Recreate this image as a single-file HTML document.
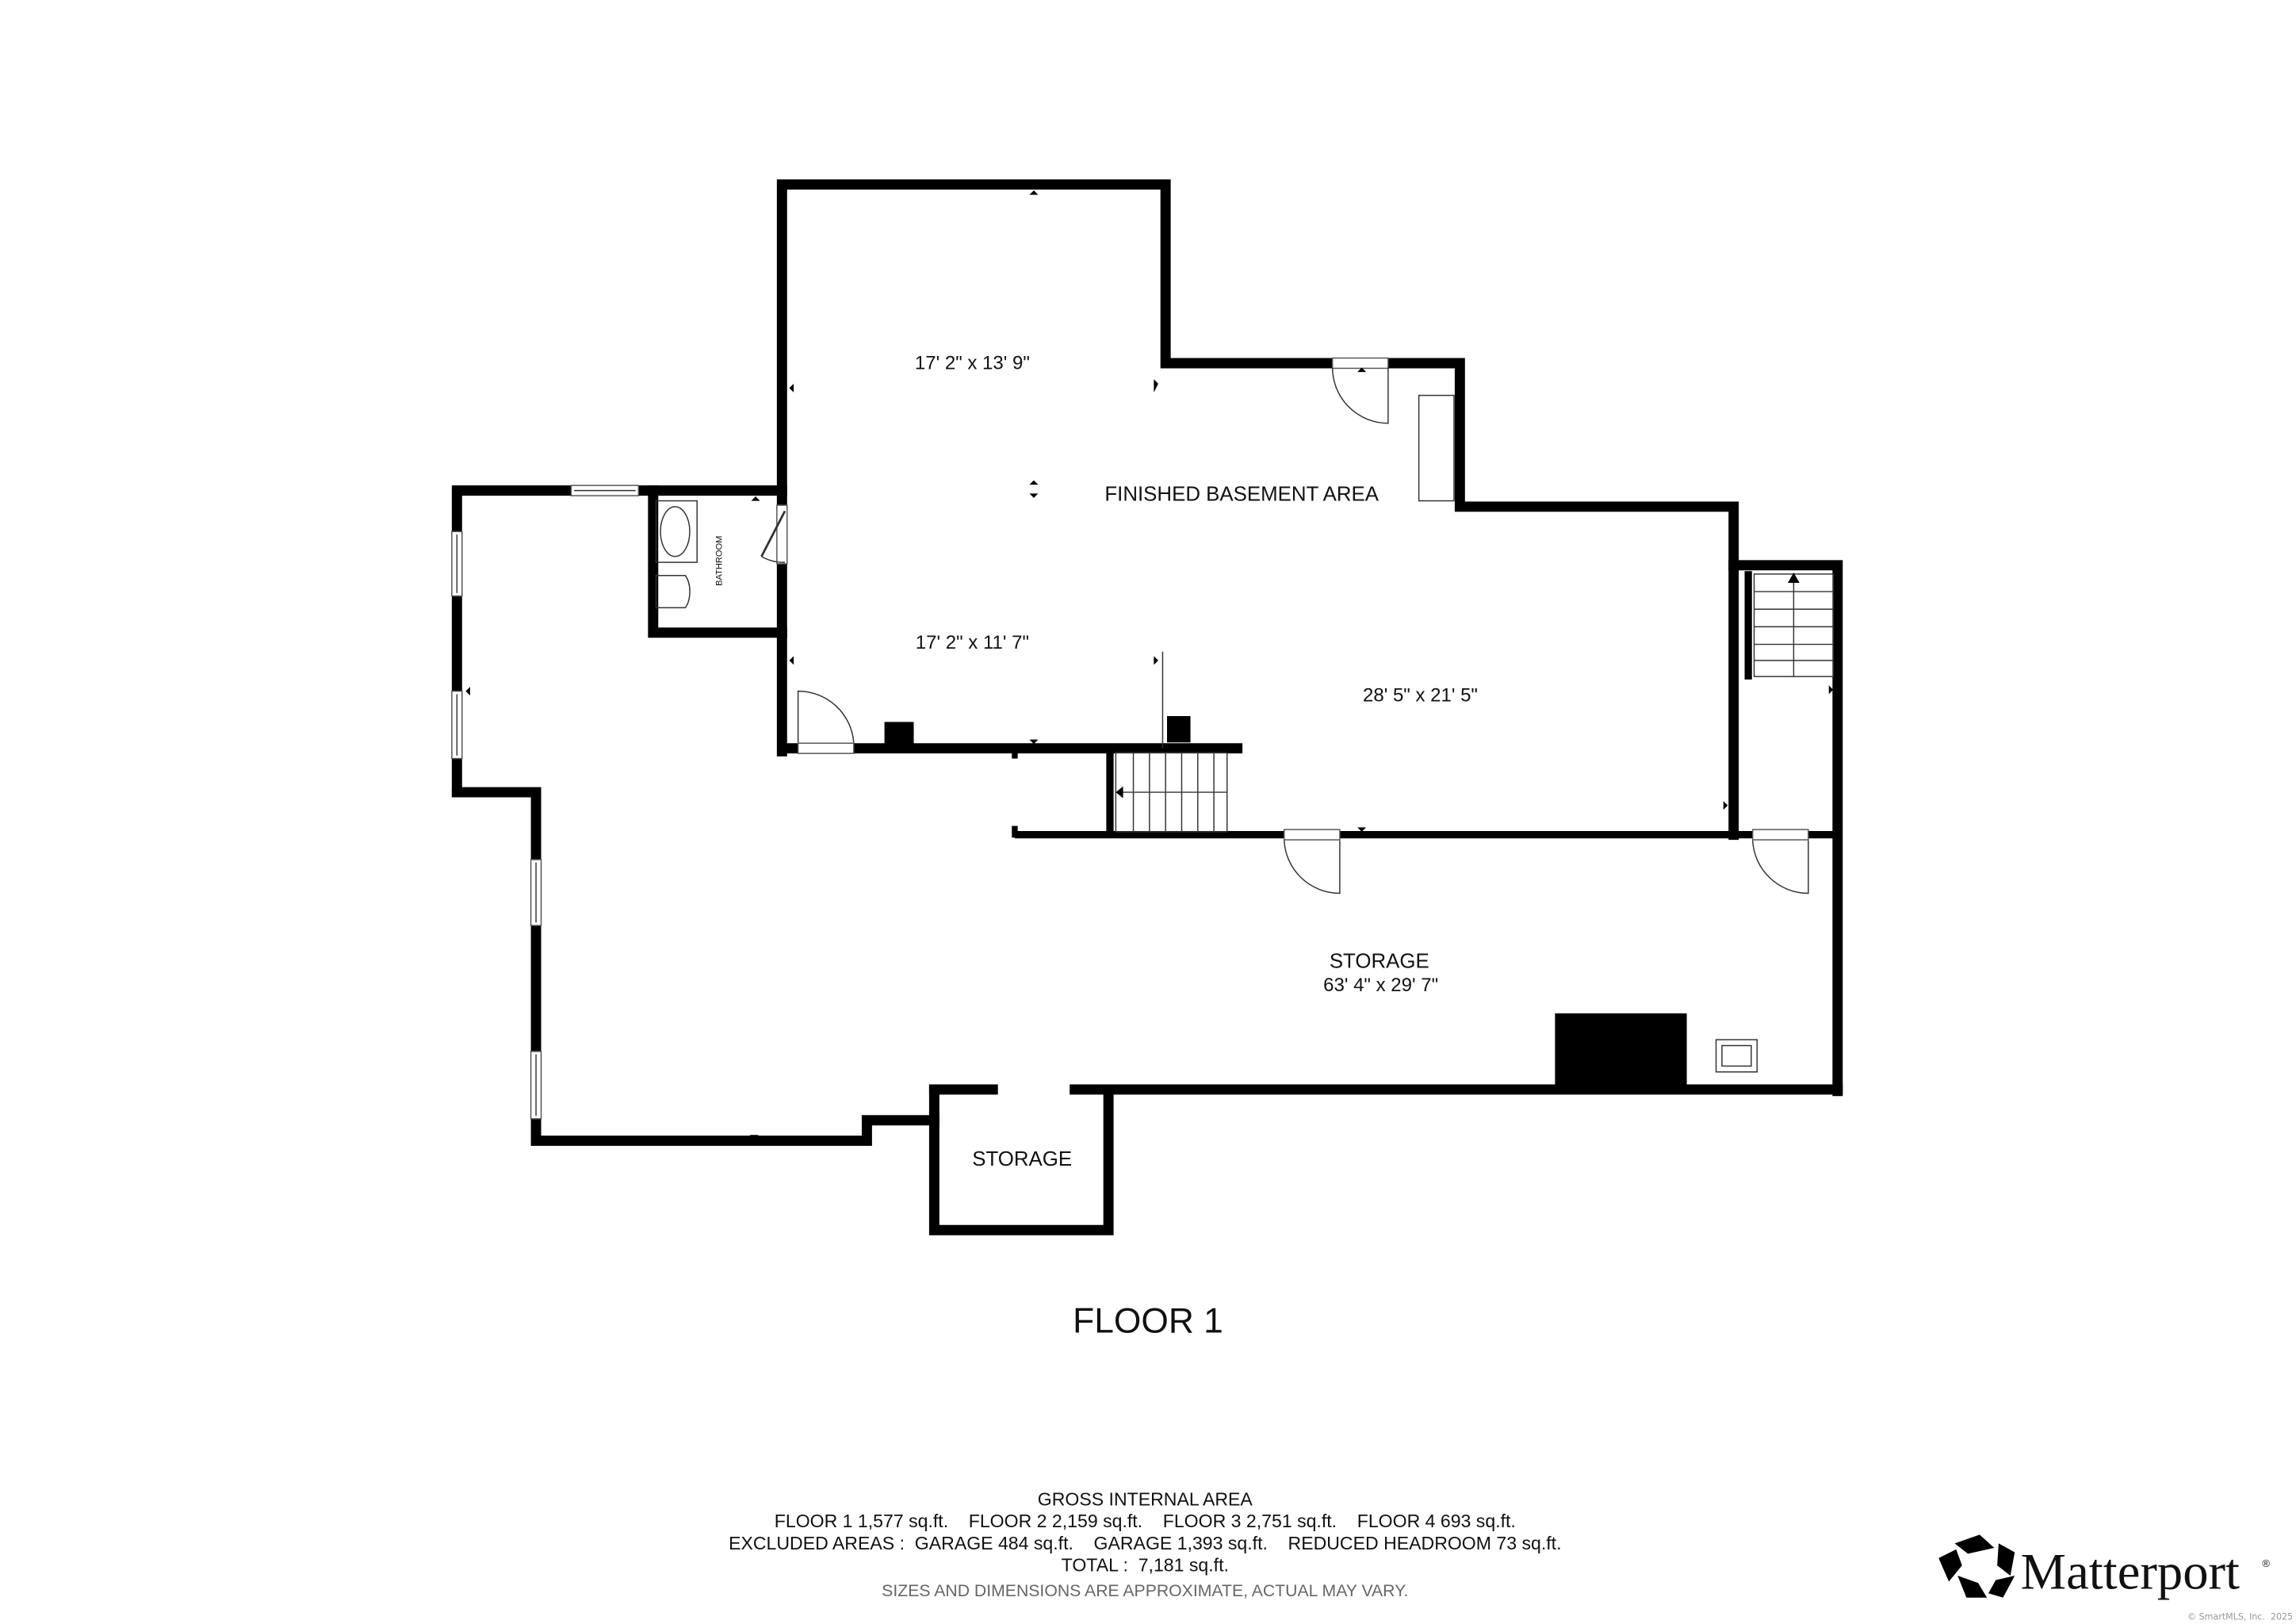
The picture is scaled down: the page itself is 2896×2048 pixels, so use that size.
<!DOCTYPE html>
<html><head><meta charset="utf-8"><style>
html,body{margin:0;padding:0;background:#fff;width:2896px;height:2048px;overflow:hidden}
svg{display:block}
text{font-family:"Liberation Sans",sans-serif;fill:#111;white-space:pre}
</style></head><body>
<svg width="2896" height="2048" viewBox="0 0 1568 1109" xmlns="http://www.w3.org/2000/svg">
<g stroke="#000" stroke-linecap="square" fill="none" stroke-width="7">
<polyline points="534,513 534,126 796,126 796,248 997,248 997,346 1184,346 1184,570"/>
<polyline points="1184,386 1255,386 1255,745"/>
<polyline points="312,541 312,335 534,335"/>
<polyline points="312,541 366,541 366,779 592,779 592,765 638,765"/>
<polyline points="638,744 638,840 757,840 757,744"/>
<line x1="638" y1="744" x2="678" y2="744"/>
<line x1="734" y1="744" x2="1255" y2="744"/>
<polyline points="446,335 446,432 534,432"/>
<line x1="537" y1="511" x2="845" y2="511"/>
</g>
<g stroke="#000" fill="none">
<line x1="693" y1="570" x2="1255" y2="570" stroke-width="5"/>
<line x1="693" y1="564" x2="693" y2="572" stroke-width="4"/>
<line x1="693" y1="512" x2="693" y2="518" stroke-width="4"/>
<line x1="758" y1="513" x2="758" y2="570" stroke-width="5"/>
<line x1="1194" y1="390" x2="1194" y2="464" stroke-width="5"/>
</g>
<g fill="#fff" stroke="#555" stroke-width="0.8">
<rect x="390" y="331.5" width="46" height="7"/>
<rect x="308.5" y="363" width="7" height="44"/>
<rect x="308.5" y="472" width="7" height="46"/>
<rect x="362.5" y="587" width="7" height="45"/>
<rect x="362.5" y="718" width="7" height="46"/>
<rect x="545" y="507.5" width="38" height="7"/>
<rect x="530.5" y="345" width="7" height="40"/>
<rect x="910" y="244.5" width="38" height="7"/>
<rect x="877" y="566.5" width="38" height="7"/>
<rect x="1197" y="566.5" width="38" height="7"/>
</g>
<g fill="none" stroke="#333" stroke-width="0.8">
<line x1="392" y1="335" x2="434" y2="335"/>
<line x1="312" y1="365" x2="312" y2="405"/>
<line x1="312" y1="474" x2="312" y2="516"/>
<line x1="366" y1="589" x2="366" y2="630"/>
<line x1="366" y1="720" x2="366" y2="762"/>
<path d="M545,507 L545,472 A38,38 0 0 1 583,507"/>
<path d="M948,251 L948,289 A38,38 0 0 1 910,251"/>
<path d="M915,574 L915,610 A38,38 0 0 1 877,574"/>
<path d="M1235,574 L1235,610 A38,38 0 0 1 1197,574"/>
<line x1="536" y1="349" x2="520" y2="380" stroke-width="1.5"/>
<path d="M520,380 A30,30 0 0 0 536,384"/>
<rect x="969" y="270" width="24" height="72"/>
<line x1="794" y1="445" x2="794" y2="511"/>
<rect x="448" y="342" width="28" height="42"/>
<ellipse cx="461" cy="363" rx="10" ry="17"/>
<path d="M448,393 L468,393 A8,14 0 0 1 468,415 L448,415 Z"/>
<rect x="762" y="514" width="76" height="54"/>
<line x1="774" y1="514" x2="774" y2="568"/><line x1="785" y1="514" x2="785" y2="568"/>
<line x1="796" y1="514" x2="796" y2="568"/><line x1="807" y1="514" x2="807" y2="568"/>
<line x1="818" y1="514" x2="818" y2="568"/><line x1="829" y1="514" x2="829" y2="568"/>
<line x1="762" y1="541" x2="838" y2="541"/>
<rect x="1198" y="392" width="54" height="70"/>
<line x1="1198" y1="404" x2="1252" y2="404"/><line x1="1198" y1="416" x2="1252" y2="416"/>
<line x1="1198" y1="428" x2="1252" y2="428"/><line x1="1198" y1="440" x2="1252" y2="440"/>
<line x1="1198" y1="451" x2="1252" y2="451"/>
<line x1="1225" y1="392" x2="1225" y2="462"/>
<rect x="1172" y="710" width="28" height="22"/>
<rect x="1176" y="714" width="20" height="14"/>
</g>
<g fill="#000">
<rect x="604" y="493" width="20" height="18"/>
<rect x="797" y="489" width="16" height="18"/>
<rect x="1062" y="692" width="90" height="52"/>
<polygon points="1221,398 1225,391 1229,398"/>
<polygon points="703,133 706,130 709,133"/>
<polygon points="703,331 706,328 709,331"/><polygon points="703,337 706,340 709,337"/>
<polygon points="703,505 706,508 709,505"/>
<polygon points="927,565 930,568 933,565"/>
<polygon points="512,775 515,778 518,775"/>
<polygon points="539,265 542,262 542,268"/>
<polygon points="539,451 542,448 542,454"/>
<polygon points="791,262 788,259 788,268"/>
<polygon points="791,451 788,448 788,454"/>
<polygon points="1180,550 1177,547 1177,553"/>
<polygon points="1252,471 1249,468 1249,474"/>
<polygon points="318,472 321,469 321,475"/>
<polygon points="927,254 930,251 933,254"/>
<polygon points="762,541 767,537 767,545"/>
<polygon points="513,342 516,339 519,342"/>
</g>
<text x="664" y="252" font-size="13" text-anchor="middle">17' 2" x 13' 9"</text>
<text x="848" y="342" font-size="14" text-anchor="middle">FINISHED BASEMENT AREA</text>
<text x="664" y="443" font-size="13" text-anchor="middle">17' 2" x 11' 7"</text>
<text x="970" y="479" font-size="13" text-anchor="middle">28' 5" x 21' 5"</text>
<text x="942" y="661" font-size="14" text-anchor="middle">STORAGE</text>
<text x="943" y="677" font-size="13" text-anchor="middle">63' 4" x 29' 7"</text>
<text x="698" y="796" font-size="14" text-anchor="middle">STORAGE</text>
<text x="493" y="383" font-size="6" text-anchor="middle" transform="rotate(-90 493 383)">BATHROOM</text>
<text x="784" y="910" font-size="24" text-anchor="middle">FLOOR 1</text>
<g font-size="12.5" text-anchor="middle">
<text x="782" y="1028">GROSS INTERNAL AREA</text>
<text x="782" y="1043">FLOOR 1 1,577 sq.ft.    FLOOR 2 2,159 sq.ft.    FLOOR 3 2,751 sq.ft.    FLOOR 4 693 sq.ft.</text>
<text x="782" y="1058">EXCLUDED AREAS :  GARAGE 484 sq.ft.    GARAGE 1,393 sq.ft.    REDUCED HEADROOM 73 sq.ft.</text>
<text x="782" y="1073">TOTAL :  7,181 sq.ft.</text>
<text x="782" y="1090" style="fill:#666" font-size="11.5">SIZES AND DIMENSIONS ARE APPROXIMATE, ACTUAL MAY VARY.</text>
</g>
<g fill="#000">
<polygon points="1335,1054 1352,1048 1362,1057 1344,1061"/>
<polygon points="1365,1054 1376,1060 1373,1076 1364,1069"/>
<polygon points="1363,1079 1376,1076 1368,1091 1358,1088"/>
<polygon points="1337,1076 1351,1081 1357,1091 1343,1091"/>
<polygon points="1324,1064 1336,1058 1340,1069 1331,1080"/>
</g>
<text x="1380" y="1085" font-size="35" style="font-family:'Liberation Serif',serif">Matterport</text>
<text x="1545" y="1070" font-size="7">®</text>
<text x="1566" y="1106" font-size="6" text-anchor="end" style="fill:#999;font-family:'DejaVu Sans',sans-serif">© SmartMLS, Inc.  2025</text>
</svg>
</body></html>
